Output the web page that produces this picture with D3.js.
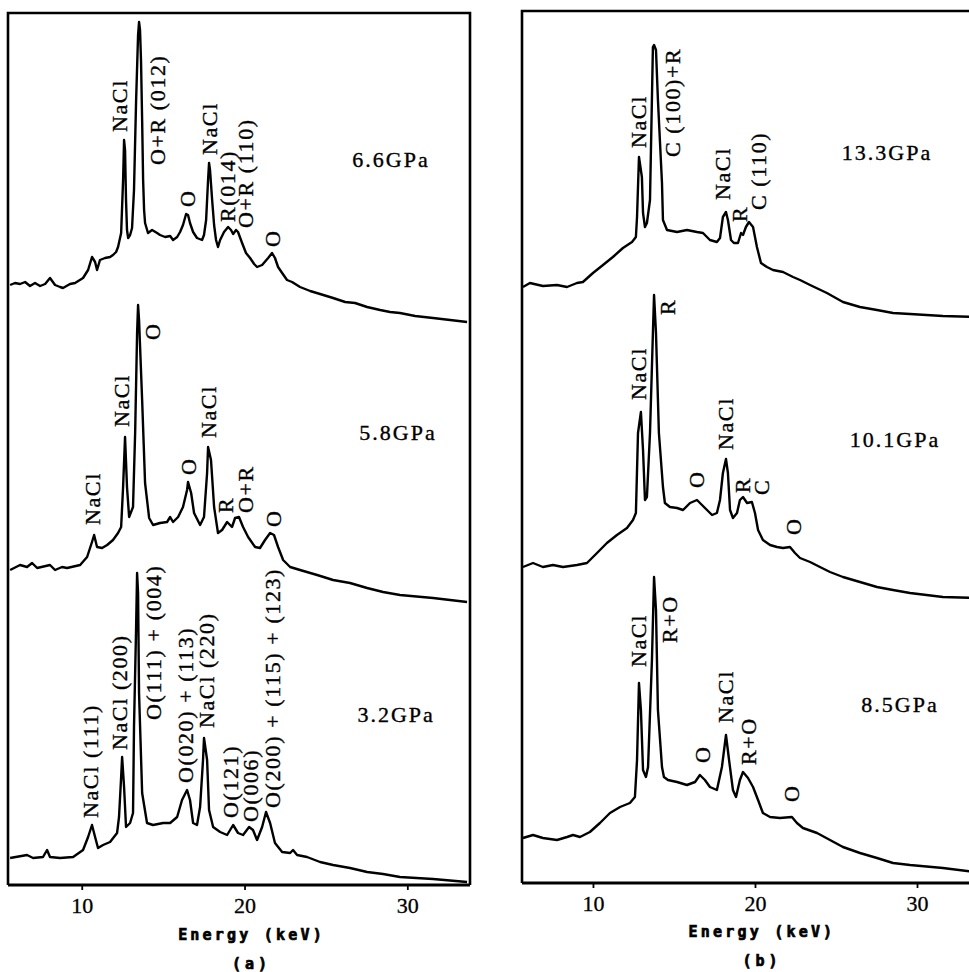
<!DOCTYPE html>
<html>
<head>
<meta charset="utf-8">
<script src="https://cdn.jsdelivr.net/npm/d3@7"></script>
<style>
  body { margin: 0; background: #fff; }
  svg { display: block; }
</style>
</head>
<body>
<svg id="chart" width="969" height="972"></svg>
<script>
// ---------- Energy-dispersive X-ray diffraction spectra ----------
// Energies in keV, intensities in arbitrary units (each trace relative to its stacking offset).

const energyTicks = [10, 20, 30];
const energyRangeA = [5.47, 33.85];
const energyRangeB = [5.62, 33.58];
const intensityRange = [0, 87.2];

// Panel (a)
const energyA66 = [5.60,5.90,6.21,6.52,6.82,7.13,7.44,7.75,8.05,8.36,8.67,8.85,9.28,9.59,10.08,10.39,10.63,10.82,10.94,11.12,11.43,11.74,11.92,12.11,12.23,12.42,12.54,12.60,12.66,12.72,12.78,12.85,12.97,13.09,13.21,13.34,13.46,13.52,13.58,13.64,13.71,13.77,13.83,13.89,14.07,14.32,14.63,14.81,15.12,15.43,15.61,15.86,16.04,16.22,16.41,16.53,16.65,16.84,17.08,17.39,17.51,17.64,17.76,17.82,17.88,18.01,18.13,18.25,18.37,18.50,18.74,18.99,19.17,19.30,19.48,19.60,19.85,20.09,20.34,20.59,20.77,21.08,21.45,21.69,21.87,22.06,22.31,22.61,22.92,23.41,24.03,24.64,25.44,26.18,26.79,27.53,28.33,28.94,29.55,30.48,31.58,32.63,33.67];
const countsA66 = [5.0,5.2,5.1,5.3,4.9,5.2,4.9,5.1,5.7,5.0,4.8,4.7,5.1,5.2,5.7,6.5,7.8,7.3,6.5,7.5,7.7,7.8,8.0,8.3,8.8,10.2,15.5,19.5,18.5,13.5,10.5,9.7,10.0,10.7,14.5,23.5,30.0,31.3,30.5,27.5,21.5,15.5,12.5,11.2,10.2,10.5,10.2,10.0,9.8,9.9,9.5,9.8,10.3,11.0,12.1,12.0,11.2,10.3,9.7,9.5,10.0,11.5,15.5,17.2,16.5,13.5,11.0,9.5,8.8,9.5,10.3,10.8,10.5,10.1,10.5,10.3,9.2,8.2,7.7,7.1,6.8,7.0,7.7,8.2,7.7,6.8,6.2,5.5,5.3,4.8,4.4,4.1,3.7,3.3,3.2,2.8,2.5,2.3,2.2,1.9,1.7,1.5,1.3];

const energyA58 = [5.60,6.21,6.64,6.95,7.26,8.05,8.36,8.79,9.10,9.90,10.33,10.63,10.76,10.94,11.25,11.56,11.92,12.23,12.42,12.54,12.66,12.78,12.91,13.15,13.28,13.40,13.46,13.52,13.71,13.89,14.14,14.38,14.81,15.24,15.43,15.61,15.92,16.22,16.47,16.53,16.72,16.90,17.27,17.51,17.70,17.76,17.94,18.13,18.37,18.62,18.93,19.23,19.42,19.66,19.91,20.22,20.65,20.95,21.26,21.57,21.81,22.06,22.37,22.80,23.41,24.46,25.44,26.48,27.53,28.51,29.55,31.58,33.67];
const countsA58 = [6.5,7.0,6.8,7.2,6.7,7.0,6.5,6.8,6.7,7.0,7.8,9.3,10.0,8.8,8.7,9.0,9.5,10.2,10.8,14.8,19.8,14.8,11.8,12.8,20.2,30.2,33.0,31.5,23.5,15.2,11.7,11.0,11.2,11.3,11.8,11.3,11.8,12.8,14.5,15.3,14.2,12.2,11.0,11.8,16.2,18.8,17.5,12.8,10.2,10.5,11.3,10.8,11.7,11.8,10.8,9.8,8.8,8.7,9.5,10.2,10.0,8.8,7.5,6.8,6.5,6.0,5.5,5.2,4.7,4.3,4.0,3.7,3.3];

const energyA32 = [5.60,6.64,7.01,7.62,7.87,8.05,8.67,9.47,10.08,10.39,10.63,10.82,11.00,11.31,11.74,12.17,12.29,12.42,12.48,12.60,12.72,12.97,13.15,13.21,13.34,13.40,13.46,13.52,13.71,14.01,14.38,15.00,15.43,15.86,16.16,16.47,16.65,16.84,17.08,17.27,17.45,17.51,17.70,17.82,18.07,18.50,18.93,19.30,19.60,19.91,20.28,20.52,20.77,21.08,21.32,21.57,21.87,22.31,22.80,22.98,23.23,23.84,24.64,25.44,26.48,27.53,28.51,29.55,31.58,33.67];
const countsA32 = [2.7,3.0,2.7,2.8,3.5,2.8,2.7,2.8,3.5,4.8,6.0,4.8,3.7,4.0,4.3,5.2,6.8,10.8,12.8,9.8,5.8,6.2,7.2,15.8,25.8,31.2,29.2,19.2,9.2,6.2,6.0,6.2,6.2,6.8,8.5,9.5,8.5,6.2,6.0,7.8,12.5,14.7,12.5,7.5,5.8,5.3,5.0,6.0,5.2,5.0,5.8,5.5,4.5,5.8,7.3,6.2,4.2,3.3,3.2,3.5,3.0,2.8,2.3,2.0,1.7,1.3,1.1,0.8,0.6,0.3];

// Panel (b)
const energyB133 = [5.68,6.11,6.91,7.78,8.40,9.01,9.38,10.00,10.62,11.23,11.85,12.41,12.65,12.72,12.84,13.02,13.09,13.21,13.33,13.52,13.70,13.77,13.89,14.01,14.26,14.32,14.57,15.19,15.80,16.42,16.79,17.22,17.65,17.84,18.02,18.21,18.33,18.52,18.70,18.95,19.14,19.26,19.44,19.63,19.88,20.12,20.37,20.74,21.11,21.73,22.35,22.78,23.40,24.44,25.43,26.48,27.53,28.52,29.57,31.60,33.60];
const countsB133 = [4.6,5.0,4.7,4.8,4.6,5.0,5.1,6.0,6.8,7.6,8.5,9.1,9.6,11.6,17.6,15.6,12.0,10.6,11.0,13.3,28.6,28.8,28.3,23.3,15.0,11.3,10.3,10.1,10.3,10.1,10.0,9.3,9.1,9.5,11.6,12.1,11.3,9.3,9.0,9.0,10.0,9.8,10.6,11.1,10.6,8.6,7.0,6.6,6.3,6.1,5.6,5.3,4.8,4.0,3.1,2.6,2.3,2.0,1.9,1.7,1.6];

const energyB101 = [5.68,6.30,6.91,7.53,8.15,9.01,9.63,10.25,10.86,11.48,12.10,12.47,12.65,12.78,12.96,13.09,13.21,13.33,13.52,13.70,13.77,13.89,14.07,14.32,14.44,14.75,15.19,15.56,15.99,16.42,16.73,17.04,17.35,17.65,17.84,18.02,18.21,18.33,18.46,18.64,18.89,19.07,19.26,19.51,19.81,20.00,20.19,20.49,20.93,21.36,21.73,22.16,22.47,22.78,23.40,24.01,24.63,25.43,26.48,27.53,28.52,29.57,31.60,33.60];
const countsB101 = [6.6,7.0,6.6,6.8,6.6,6.8,7.0,8.0,9.0,9.8,10.5,11.3,12.0,20.0,22.1,18.3,13.3,13.6,20.0,30.0,33.8,30.0,20.0,14.6,13.0,12.6,12.5,12.3,13.0,13.3,12.8,12.3,11.8,12.0,13.3,16.0,17.4,16.0,12.3,11.5,12.0,13.3,13.6,13.0,13.1,12.0,10.3,9.3,8.8,8.6,8.5,8.6,8.0,7.5,7.1,6.6,6.1,5.6,5.1,4.6,4.3,4.0,3.6,3.5];

const energyB85 = [5.68,6.30,6.91,7.78,8.40,8.77,9.20,9.81,10.43,11.05,11.67,12.28,12.59,12.72,12.84,12.96,13.09,13.27,13.40,13.64,13.77,13.89,14.01,14.26,14.38,14.63,15.19,15.80,16.30,16.60,16.91,17.22,17.65,17.96,18.21,18.40,18.64,18.83,19.07,19.26,19.57,19.88,20.19,20.49,20.93,21.54,22.28,22.59,22.96,23.83,24.63,25.43,26.48,27.53,28.52,29.57,31.60,33.60];
const countsB85 = [4.5,4.8,4.5,4.3,4.6,4.8,4.6,5.1,6.0,7.0,7.6,8.0,8.6,12.3,20.0,17.3,11.3,10.6,11.6,22.3,30.6,27.3,17.3,11.6,10.6,10.3,10.1,9.8,10.1,10.8,10.3,9.6,9.3,11.6,14.8,12.3,9.3,8.6,10.3,11.1,10.5,9.6,8.3,7.0,6.6,6.5,6.6,6.0,5.5,5.0,4.3,3.6,3.0,2.5,2.0,1.8,1.5,1.1];

// Stacking offsets (top, middle, bottom) in intensity units
const stackOffsets = [55, 25, 0];

// Pressure of each run and where its caption sits [keV, intensity]
const pressuresA = ["6.6GPa", "5.8GPa", "3.2GPa"];
const pressureAnchorsA = [[29.00, 71.8], [29.43, 44.5], [29.31, 16.3]];
const pressuresB = ["13.3GPa", "10.1GPa", "8.5GPa"];
const pressureAnchorsB = [[28.15, 72.3], [28.64, 43.6], [28.95, 17.1]];

// Peak assignments: [text, keV, intensity at the foot of the label]
const peaksA66 = [["NaCl",12.29,75.3],["O+R (012)",14.63,72.0],["O",16.47,67.8],["NaCl",17.82,73.0],["R(014)",18.93,66.3],["O+R (110)",20.03,65.7],["O",21.69,63.8]];
const peaksA58 = [["NaCl",10.69,36.0],["NaCl",12.42,45.8],["O",14.32,54.5],["O",16.53,41.0],["NaCl",17.76,44.7],["R",18.80,37.2],["O+R",20.03,37.2],["O",21.75,35.8]];
const peaksA32 = [["NaCl (111)",10.51,6.7],["NaCl (200)",12.29,13.5],["O(111) + (004)",14.38,16.5],["O(020) + (113)",16.35,10.2],["NaCl (220)",17.64,15.7],["O(121)",19.11,6.7],["O(006)",20.34,6.3],["O(200) + (115) + (123)",21.69,7.7]];
const peaksB133 = [["NaCl",12.78,73.5],["C (100)+R",14.88,72.6],["NaCl",18.02,68.3],["R",19.07,66.1],["C (110)",20.19,67.3]];
const peaksB101 = [["R",14.63,56.8],["NaCl",12.78,48.3],["O",16.42,39.5],["NaCl",18.15,43.3],["R",19.26,39.0],["C",20.43,38.8],["O",22.35,34.8]];
const peaksB85 = [["NaCl",12.78,21.6],["R+O",14.75,24.0],["O",16.79,12.0],["NaCl",18.15,16.0],["R+O",19.57,11.8],["O",22.28,8.1]];

const axisTitle = "Energy (keV)";

// ---------- drawing ----------
const svg = d3.select("#chart");

const panels = [
  {
    caption: "(a)", box: {left: 8, right: 470, top: 13, bottom: 885},
    xDomain: energyRangeA, titleY: 940, captionY: 969,
    traces: [
      {energy: energyA66, counts: countsA66, peaks: peaksA66},
      {energy: energyA58, counts: countsA58, peaks: peaksA58},
      {energy: energyA32, counts: countsA32, peaks: peaksA32}
    ],
    pressures: pressuresA, pressureAnchors: pressureAnchorsA
  },
  {
    caption: "(b)", box: {left: 522, right: 975, top: 11, bottom: 883},
    xDomain: energyRangeB, titleY: 937, captionY: 966,
    traces: [
      {energy: energyB133, counts: countsB133, peaks: peaksB133},
      {energy: energyB101, counts: countsB101, peaks: peaksB101},
      {energy: energyB85, counts: countsB85, peaks: peaksB85}
    ],
    pressures: pressuresB, pressureAnchors: pressureAnchorsB
  }
];

const serif = "'Liberation Serif', 'Times New Roman', serif";
const mono = "'DejaVu Sans Mono', 'Liberation Mono', monospace";

panels.forEach(p => {
  const b = p.box;
  const x = d3.scaleLinear().domain(p.xDomain).range([b.left, b.right]);
  const y = d3.scaleLinear().domain(intensityRange).range([b.bottom, b.top]);
  const g = svg.append("g");

  // frame
  g.append("path")
    .attr("d", `M${b.left},${b.bottom}V${b.top}H${b.right}V${b.bottom}`)
    .attr("fill", "none").attr("stroke", "#000").attr("stroke-width", 2.6);

  // energy axis
  const axis = d3.axisBottom(x).tickValues(energyTicks)
    .tickSize(5).tickSizeOuter(0).tickPadding(7).tickFormat(d3.format("d"));
  const ax = g.append("g").attr("transform", `translate(0,${b.bottom})`).call(axis);
  ax.select(".domain").attr("stroke-width", 3.2).attr("d", `M${b.left},0H${b.right}`);
  ax.selectAll(".tick line").attr("stroke-width", 1.8);
  ax.selectAll(".tick text")
    .attr("font-family", serif).attr("font-size", 22).attr("fill", "#000")
    .attr("stroke", "#000").attr("stroke-width", 0.3);

  const mid = (x(energyTicks[0]) + x(energyTicks[2])) / 2 + 7;
  g.append("text")
    .attr("x", mid).attr("y", p.titleY)
    .attr("text-anchor", "middle")
    .attr("font-family", mono)
    .attr("font-weight", "bold").attr("font-size", 15)
    .attr("letter-spacing", 3.2)
    .attr("stroke", "#000").attr("stroke-width", 0.7)
    .text(axisTitle);

  g.append("text")
    .attr("x", mid).attr("y", p.captionY)
    .attr("text-anchor", "middle")
    .attr("font-family", mono)
    .attr("font-weight", "bold").attr("font-size", 15)
    .attr("letter-spacing", 4)
    .attr("stroke", "#000").attr("stroke-width", 0.7)
    .text(p.caption);

  // spectra
  p.traces.forEach((t, i) => {
    const off = stackOffsets[i];
    const pts = t.energy.map((e, k) => [e, t.counts[k] + off]);
    const line = d3.line().x(d => x(d[0])).y(d => y(d[1]));
    g.append("path")
      .datum(pts)
      .attr("d", line)
      .attr("fill", "none")
      .attr("stroke", "#000")
      .attr("stroke-width", 2.4)
      .attr("stroke-linejoin", "round");

    // peak assignments, written vertically
    g.selectAll(null).data(t.peaks).enter().append("text")
      .attr("transform", d => `translate(${x(d[1])},${y(d[2])}) rotate(-90)`)
      .attr("dominant-baseline", "central")
      .attr("font-family", serif)
      .attr("font-size", 22)
      .attr("letter-spacing", 1.6)
      .attr("stroke", "#000").attr("stroke-width", 0.35)
      .text(d => d[0]);

    // pressure caption
    const pa = p.pressureAnchors[i];
    g.append("text")
      .attr("x", x(pa[0])).attr("y", y(pa[1]))
      .attr("text-anchor", "middle")
      .attr("font-family", serif)
      .attr("font-size", 22)
      .attr("letter-spacing", 2)
      .attr("stroke", "#000").attr("stroke-width", 0.35)
      .text(p.pressures[i]);
  });
});
</script>
</body>
</html>
